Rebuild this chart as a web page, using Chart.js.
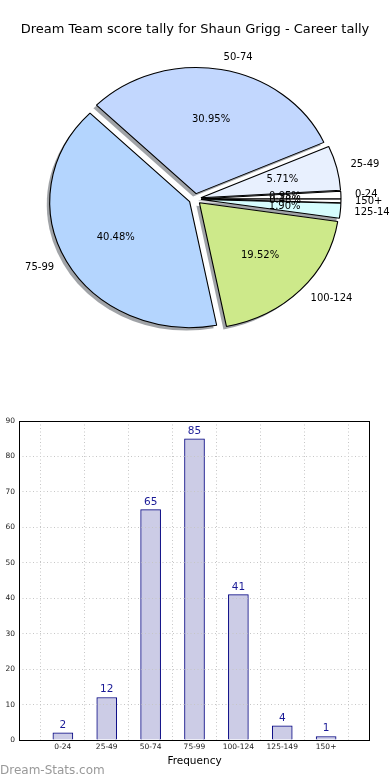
<!DOCTYPE html>
<html>
<head>
<meta charset="utf-8">
<script src="https://cdn.jsdelivr.net/npm/chart.js@4"></script>
<style>
  body { margin: 0; background: #fff; }
  canvas { position: absolute; left: 0; }
  #pie { top: 0; }
  #bars { top: 400px; }
</style>
</head>
<body>
<canvas id="pie" width="390" height="400"></canvas>
<canvas id="bars" width="390" height="380"></canvas>
<script>
// score bands and how many games fell in each
var categories = ["0-24", "25-49", "50-74", "75-99", "100-124", "125-149", "150+"];
var counts = [2, 12, 65, 85, 41, 4, 1];
var sliceColors = ["#ffffff", "#e8f0fe", "#c2d7fe", "#b4d5fe", "#cde98a", "#d6fdfe", "#ffffff"];
var yTicks = { min: 0, max: 90, step: 10 };

var chartTitle = "Dream Team score tally for Shaun Grigg - Career tally";
var xTitle = "Frequency";
var watermark = "Dream-Stats.com";

Chart.defaults.font.family = "'DejaVu Sans', sans-serif";
Chart.defaults.color = "#000";

// pie look: squashed a little sideways, exploded, with a drop shadow
var SX = 1.11;
var EXPLODE = 5.5;
var CX = 195;
var total = counts.reduce(function(s, v) { return s + v; }, 0);

var pieLook = {
  id: "pieLook",
  afterDatasetUpdate: function(chart, args) {
    // explode every wedge by the same amount
    args.meta.data.forEach(function(a) {
      var mid = (a.startAngle + a.endAngle) / 2;
      a.x += Math.cos(mid) * EXPLODE;
      a.y += Math.sin(mid) * EXPLODE;
    });
  },
  beforeDatasetsDraw: function(chart) {
    var ctx = chart.ctx;
    var meta = chart.getDatasetMeta(0);
    ctx.save();
    ctx.translate(CX, 0);
    ctx.scale(SX, 1);
    ctx.translate(-CX, 0);
    //shadows
    ctx.fillStyle = "rgba(45,50,60,0.45)";
    meta.data.forEach(function(a) {
      var x = a.x - 3 / SX;
      var y = a.y + 3;
      ctx.beginPath();
      ctx.moveTo(x, y);
      ctx.arc(x, y, a.outerRadius, a.startAngle, a.endAngle);
      ctx.closePath();
      ctx.fill();
    });
  },
  afterDatasetsDraw: function(chart) {
    var ctx = chart.ctx;
    ctx.restore();
    var meta = chart.getDatasetMeta(0);
    var labels = chart.data.labels;
    var data = chart.data.datasets[0].data;
    ctx.save();
    ctx.fillStyle = "#000";
    ctx.textBaseline = "middle";
    ctx.font = "10px 'DejaVu Sans'";
    meta.data.forEach(function(a, i) {
      var mid = (a.startAngle + a.endAngle) / 2;
      var c = Math.cos(mid), s = Math.sin(mid);
      var r = a.outerRadius;
      ctx.textAlign = c > 0 ? "left" : "right";
      ctx.fillText(labels[i], CX + SX * (a.x - CX + c * 1.1 * r), a.y + s * 1.1 * r);
      ctx.textAlign = "center";
      var pct = (data[i] / total * 100).toFixed(2) + "%";
      ctx.fillText(pct, CX + SX * (a.x - CX + c * 0.6 * r), a.y + s * 0.6 * r);
    });
    ctx.font = "13px 'DejaVu Sans'";
    ctx.textAlign = "center";
    ctx.fillText(chartTitle, 195, 30);
    ctx.restore();
  }
};

// matplotlib went counter-clockwise from 3 o'clock, chart.js goes clockwise
var pieLabels = categories.slice().reverse();
var pieData = counts.slice().reverse();
var pieColors = sliceColors.slice().reverse();

new Chart(document.getElementById("pie"), {
  type: "pie",
  data: {
    labels: pieLabels,
    datasets: [{
      data: pieData,
      backgroundColor: pieColors,
      borderColor: "#000",
      borderWidth: 1
    }]
  },
  options: {
    responsive: false,
    animation: false,
    events: [],
    rotation: 90,
    radius: 126,
    layout: { padding: { left: 0, right: 0, top: 0, bottom: 2 } },
    plugins: { legend: { display: false }, tooltip: { enabled: false } }
  },
  plugins: [pieLook]
});

// bar chart
var barLook = {
  id: "barLook",
  afterDatasetsDraw: function(chart) {
    var ctx = chart.ctx;
    var meta = chart.getDatasetMeta(0);
    ctx.save();
    ctx.fillStyle = "#1a1a96";
    ctx.font = "10.5px 'DejaVu Sans'";
    ctx.textAlign = "center";
    ctx.textBaseline = "alphabetic";
    meta.data.forEach(function(b, i) {
      ctx.fillText(String(counts[i]), b.x, b.y - 5);
    });
    ctx.restore();
  },
  afterDraw: function(chart) {
    var ctx = chart.ctx;
    var a = chart.chartArea;
    ctx.save();
    ctx.strokeStyle = "#000";
    ctx.lineWidth = 1;
    ctx.strokeRect(a.left + 0.5, a.top + 0.5, a.right - a.left - 1, a.bottom - a.top);
    ctx.fillStyle = "#999";
    ctx.font = "12px 'DejaVu Sans'";
    ctx.textAlign = "left";
    ctx.textBaseline = "alphabetic";
    ctx.fillText(watermark, 0, 374);
    ctx.restore();
  }
};

var gridStyle = { color: "#c6c6c6", lineWidth: 1, drawTicks: false, z: 1 };

new Chart(document.getElementById("bars"), {
  type: "bar",
  data: {
    datasets: [{
      data: counts.map(function(v, i) { return { x: i + 1, y: v }; }),
      backgroundColor: "#ccccE6",
      borderColor: "#000080",
      borderWidth: 1,
      barThickness: 20
    }]
  },
  options: {
    responsive: false,
    animation: false,
    events: [],
    layout: { padding: { left: 0, right: 20, top: 21, bottom: 0 } },
    plugins: { legend: { display: false }, tooltip: { enabled: false } },
    scales: {
      x: {
        type: "linear",
        min: 0,
        max: categories.length + 1,
        offset: false,
        afterFit: function(s) { s.height = 40; },
        ticks: {
          stepSize: 1,
          autoSkip: false,
          maxRotation: 0,
          padding: 3,
          color: "#222",
          font: { size: 7.5 },
          callback: function(v) { return categories[v - 1] || ""; }
        },
        grid: gridStyle,
        border: { display: false, dash: [1, 2.5] },
        title: { display: true, text: xTitle, color: "#000", font: { size: 10.5 }, padding: { top: 0, bottom: 12.7 } }
      },
      y: {
        min: yTicks.min,
        max: yTicks.max,
        afterFit: function(s) { s.width = 19; },
        ticks: { stepSize: yTicks.step, padding: 4, color: "#222", font: { size: 7.5 } },
        grid: gridStyle,
        border: { display: false, dash: [1, 2.5] }
      }
    }
  },
  plugins: [barLook]
});
</script>
</body>
</html>
